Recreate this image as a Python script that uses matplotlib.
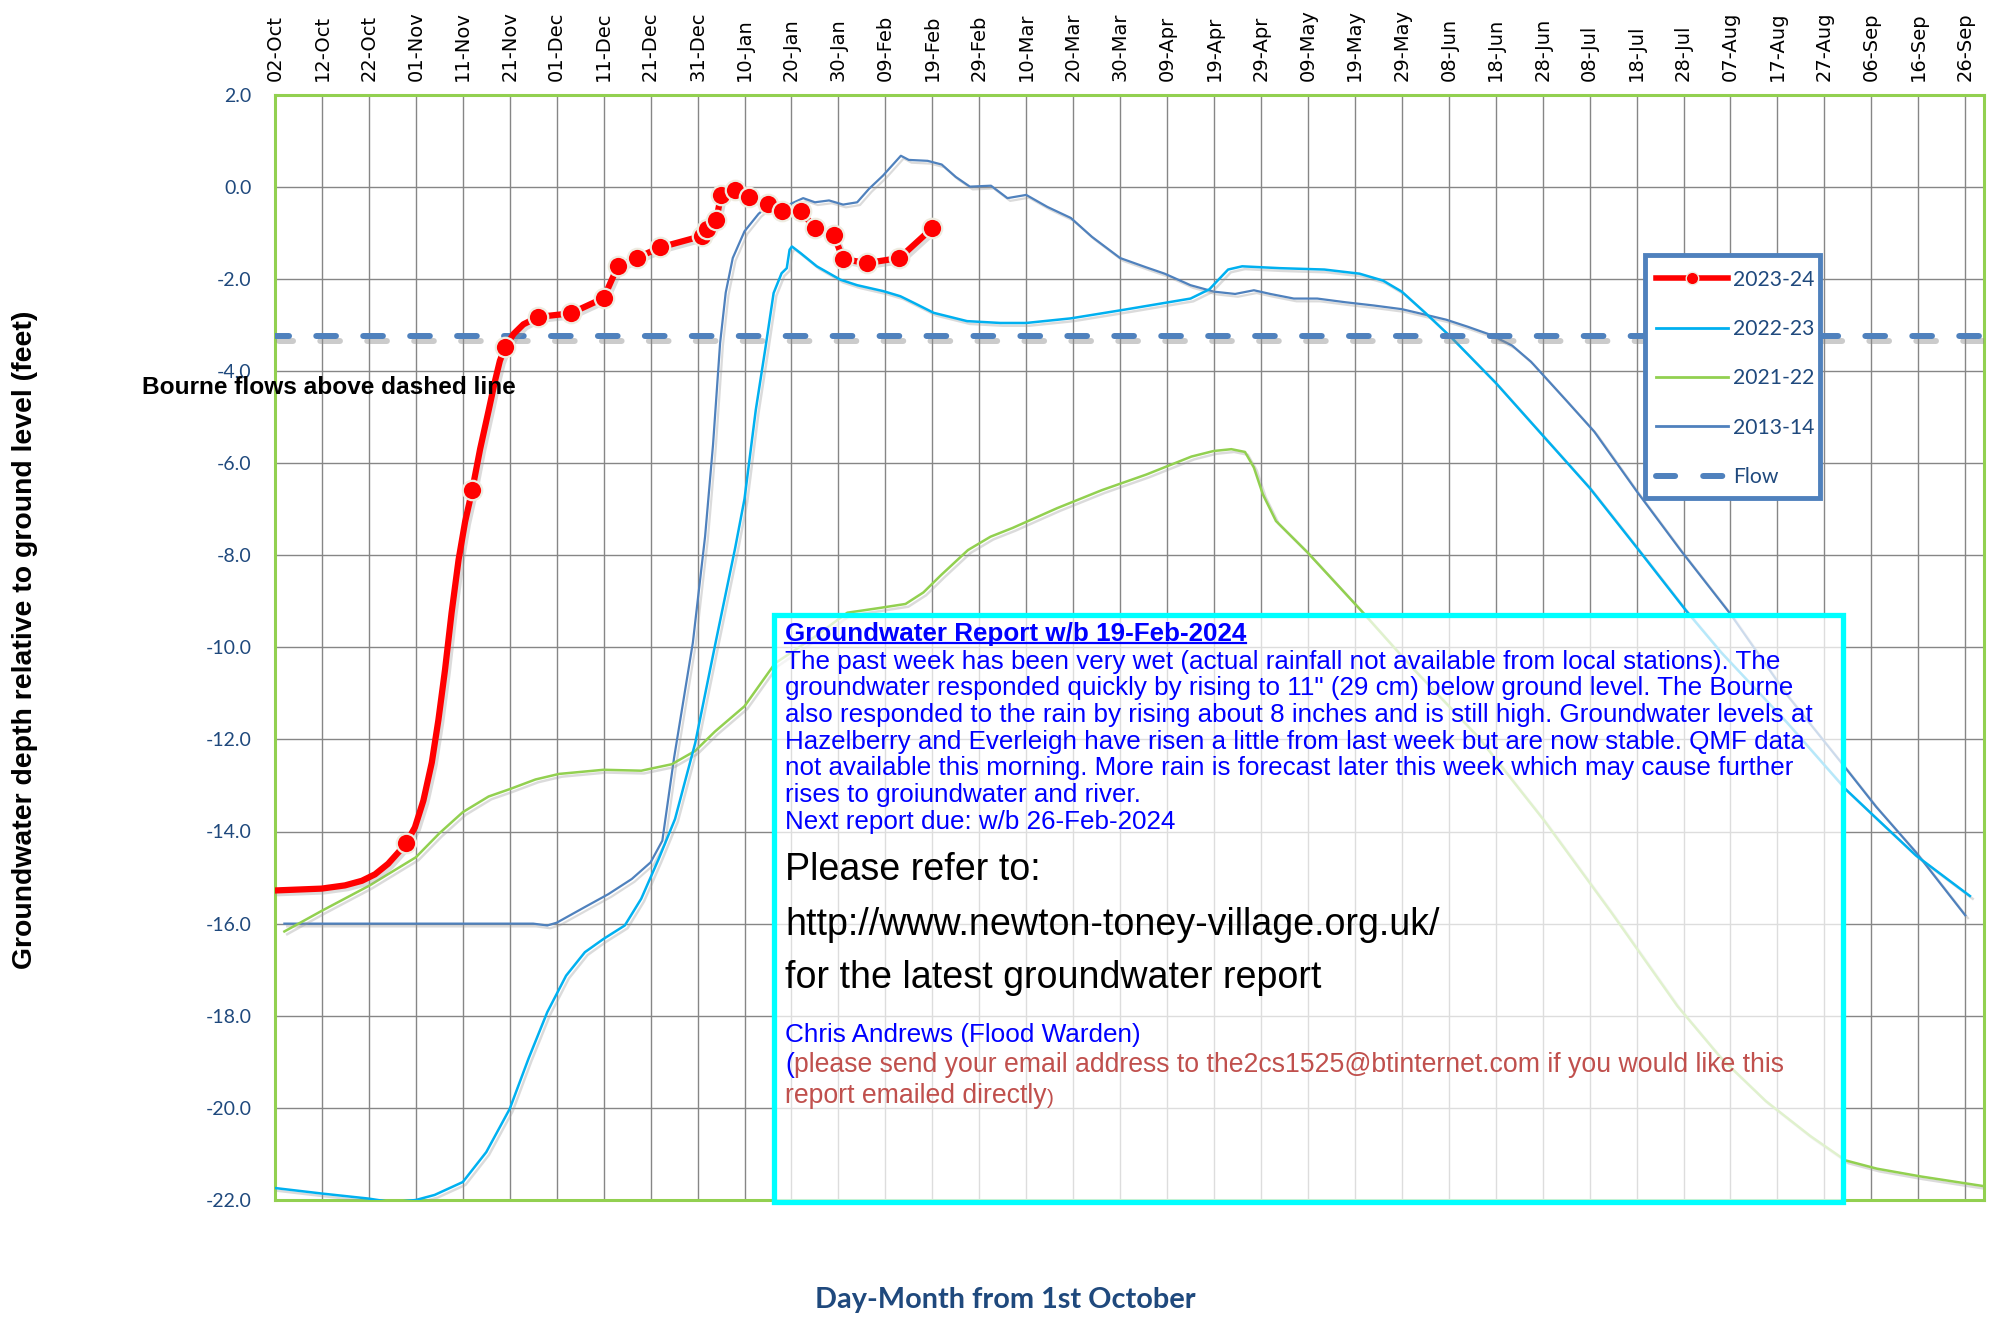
import matplotlib
matplotlib.use("Agg")
import matplotlib.pyplot as plt
import matplotlib.patheffects as pe
from matplotlib.lines import Line2D
from matplotlib.patches import Rectangle

# days counted from 01-Oct (02-Oct = day 1)
tick_days = list(range(1, 362, 10))
tick_labels = ["02-Oct", "12-Oct", "22-Oct", "01-Nov", "11-Nov", "21-Nov", "01-Dec", "11-Dec",
               "21-Dec", "31-Dec", "10-Jan", "20-Jan", "30-Jan", "09-Feb", "19-Feb", "29-Feb",
               "10-Mar", "20-Mar", "30-Mar", "09-Apr", "19-Apr", "29-Apr", "09-May", "19-May",
               "29-May", "08-Jun", "18-Jun", "28-Jun", "08-Jul", "18-Jul", "28-Jul", "07-Aug",
               "17-Aug", "27-Aug", "06-Sep", "16-Sep", "26-Sep"]
y_ticks = [2, 0, -2, -4, -6, -8, -10, -12, -14, -16, -18, -20, -22]

# 2023-24 (line, markers = readings)
d24_line = [1, 10.9, 15.9, 19.5, 22.3, 25.1, 27.3, 29, 30.8, 32.6, 34.4, 35.8, 37.2, 38.6, 40.1,
            41.5, 43, 44.7, 46.5, 47.9, 48.9, 50, 51.8, 53.9, 57, 64, 71, 74, 78, 83, 92, 93, 95,
            96, 99, 102, 106, 109, 113, 116, 120, 122, 127, 134, 141]
v24_line = [-15.28, -15.24, -15.17, -15.07, -14.93, -14.70, -14.45, -14.24, -13.91, -13.33, -12.50,
            -11.58, -10.50, -9.26, -8.10, -7.27, -6.59, -5.69, -4.86, -4.20, -3.78, -3.49, -3.20,
            -2.99, -2.83, -2.75, -2.42, -1.73, -1.55, -1.32, -1.07, -0.92, -0.72, -0.18, -0.07,
            -0.23, -0.38, -0.54, -0.54, -0.90, -1.05, -1.57, -1.66, -1.55, -0.90]
d24_pts = [29, 43, 50, 57, 64, 71, 74, 78, 83, 92, 93, 95, 96, 99, 102, 106, 109, 113, 116, 120,
           122, 127, 134, 141]
v24_pts = [-14.24, -6.59, -3.49, -2.83, -2.75, -2.42, -1.73, -1.55, -1.32, -1.07, -0.92, -0.72,
           -0.18, -0.07, -0.23, -0.38, -0.54, -0.54, -0.90, -1.05, -1.57, -1.66, -1.55, -0.90]

# 2022-23
d22 = [1, 11, 21, 26, 31, 35, 41, 46, 51, 55, 59, 63, 67, 71, 75.5, 79, 82.7, 86.2, 90.5, 94.8,
       99, 101, 103.4, 105.4, 107.2, 108.9, 110, 110.6, 111.1, 112.9, 116.4, 121.4, 125, 130.6,
       134.2, 137, 141.3, 148.4, 155.5, 161, 170.5, 182, 196, 200, 204, 207, 215, 224.5, 232, 237,
       241, 246, 251.5, 261, 271, 281, 291, 301.5, 309, 323, 335.5, 341, 350.5, 362]
v22 = [-21.74, -21.86, -21.97, -22.05, -22.0, -21.89, -21.61, -20.96, -20.02, -18.93, -17.92,
       -17.13, -16.62, -16.33, -16.04, -15.46, -14.60, -13.73, -12.08, -9.92, -7.85, -6.78, -4.85,
       -3.54, -2.31, -1.88, -1.77, -1.37, -1.30, -1.44, -1.73, -2.02, -2.14, -2.27, -2.38, -2.52,
       -2.74, -2.92, -2.96, -2.96, -2.86, -2.67, -2.43, -2.23, -1.80, -1.73, -1.77, -1.80, -1.89,
       -2.04, -2.28, -2.74, -3.27, -4.26, -5.40, -6.54, -7.83, -9.20, -10.11, -11.63, -13.08,
       -13.61, -14.52, -15.40]

# 2021-22
d21 = [3, 11, 21, 31, 36, 41, 46.5, 51, 56.5, 61.5, 71, 79, 85.5, 90.5, 94.7, 101, 107.5, 116,
       122.9, 129.6, 135.3, 139.1, 142.9, 148.6, 153.4, 158.1, 167.6, 177.1, 186.6, 196.2, 200.9,
       204.7, 207.6, 209.5, 211.4, 214.2, 220.9, 226.6, 232.3, 243, 257.2, 271.3, 285.5, 299.7,
       309.1, 318.5, 328, 335.5, 342.2, 351.6, 365]
v21 = [-16.17, -15.72, -15.18, -14.56, -14.04, -13.58, -13.24, -13.08, -12.87, -12.75, -12.66,
       -12.68, -12.54, -12.25, -11.83, -11.28, -10.35, -9.77, -9.25, -9.15, -9.06, -8.81, -8.43,
       -7.89, -7.60, -7.41, -6.98, -6.59, -6.25, -5.86, -5.74, -5.70, -5.76, -6.10, -6.68, -7.26,
       -7.94, -8.57, -9.20, -10.42, -11.94, -13.76, -15.74, -17.79, -18.93, -19.85, -20.61,
       -21.14, -21.32, -21.49, -21.70]

# 2013-14
d13 = [3, 56, 59, 61, 67, 72, 77, 81, 83.5, 86, 90, 92.6, 94.3, 95.8, 97, 98.5, 101, 104, 107,
       110.5, 113.5, 116, 119, 122, 125, 127.5, 130.5, 134.3, 136, 140, 143, 146, 149, 153.5, 157,
       161, 165.5, 170.5, 175, 181, 186.5, 190.5, 196, 201, 205.5, 209.5, 213, 218, 223, 229, 235,
       241, 246, 250.5, 255, 260, 264.5, 268.5, 276, 282, 291, 300.5, 311, 323, 335.5, 342, 350.5,
       361]
v13 = [-16.0, -16.0, -16.04, -15.98, -15.64, -15.36, -15.03, -14.67, -14.2, -12.4, -9.9, -7.6,
       -5.6, -3.4, -2.3, -1.55, -0.97, -0.59, -0.34, -0.39, -0.25, -0.34, -0.30, -0.39, -0.34,
       -0.05, 0.24, 0.67, 0.58, 0.56, 0.48, 0.21, 0.0, 0.02, -0.25, -0.18, -0.44, -0.68, -1.09,
       -1.55, -1.75, -1.89, -2.14, -2.28, -2.33, -2.25, -2.33, -2.43, -2.43, -2.51, -2.58, -2.66,
       -2.78, -2.89, -3.04, -3.22, -3.45, -3.80, -4.64, -5.32, -6.61, -7.91, -9.28, -11.03,
       -12.62, -13.46, -14.45, -15.82]

# Flow threshold
flow_days = [1, 365]
flow_vals = [-3.25, -3.25]

series_labels = ["2023-24", "2022-23", "2021-22", "2013-14", "Flow"]

body_lines = [
    "The past week has been very wet (actual rainfall not available from local stations). The",
    "groundwater responded quickly by rising to 11\" (29 cm) below ground level. The Bourne",
    "also responded to the rain by rising about 8 inches and is still high. Groundwater levels at",
    "Hazelberry and Everleigh have risen a little from last week but are now stable. QMF data",
    "not available this morning. More rain is forecast later this week which may cause further",
    "rises to groiundwater and river.",
    "Next report due: w/b 26-Feb-2024",
]

RED = "#FF0000"
LBLUE = "#00B0F0"
GREEN = "#92D050"
SBLUE = "#4F81BD"
NAVY = "#1F497D"

W, H = 1995, 1318
fig = plt.figure(figsize=(W / 100, H / 100), dpi=100)
fig.patch.set_facecolor("white")


def fx(x):
    return x / W


def fy(y):
    return 1 - y / H


ax = fig.add_axes([fx(275), fy(1200), (1984 - 275) / W, (1200 - 94.5) / H])
ax.set_xlim(1, 365)
ax.set_ylim(-22, 2)

shadow = [pe.SimpleLineShadow(offset=(2, -2), shadow_color="#9a9a9a", alpha=0.35), pe.Normal()]

ax.plot(d13, v13, color=SBLUE, lw=1.6, zorder=3, path_effects=shadow)
ax.plot(d21, v21, color=GREEN, lw=1.8, zorder=3, path_effects=shadow)
ax.plot(d22, v22, color=LBLUE, lw=1.8, zorder=3, path_effects=shadow)
ax.plot(flow_days, flow_vals, color=SBLUE, lw=4.3, ls=(0.95, (3.3, 4.56)), dash_capstyle="round",
        zorder=4,
        path_effects=[pe.SimpleLineShadow(offset=(3, -3.5), shadow_color="#8c8c8c", alpha=0.45),
                      pe.Normal()])
ax.plot(d24_line, v24_line, color=RED, lw=4.5, solid_capstyle="round", zorder=5,
        path_effects=shadow)
ax.plot(d24_pts, v24_pts, ls="none", marker="o", ms=14, mfc=RED, mec="#EEECE1", mew=1.6,
        zorder=6)

# axes styling
ax.xaxis.tick_top()
ax.set_xticks(tick_days)
ax.set_xticklabels(tick_labels, rotation=90, fontsize=14, family="DejaVu Sans", color="black")
ax.set_yticks(y_ticks)
ax.set_yticklabels(["%.1f" % v for v in y_ticks], fontsize=14, family="Lato", color=NAVY)
ax.tick_params(axis="x", length=0, pad=10)
ax.tick_params(axis="y", length=0, pad=17)
ax.grid(True, color="#868686", lw=1.0)
ax.set_axisbelow(True)
for s in ax.spines.values():
    s.set_color(GREEN)
    s.set_linewidth(2.2)

# legend: frame drawn as a rectangle, entries without frame
leg_box = Rectangle((fx(1645), fy(498)), (1820 - 1645) / W, (498 - 255) / H,
                    transform=fig.transFigure, facecolor="white", edgecolor=SBLUE, lw=3.5,
                    zorder=9, clip_on=False)
ax.add_patch(leg_box)
handles = [
    Line2D([], [], color=RED, lw=4, marker="o", ms=9, mfc=RED, mec="#EEECE1", mew=1),
    Line2D([], [], color=LBLUE, lw=2),
    Line2D([], [], color=GREEN, lw=2),
    Line2D([], [], color=SBLUE, lw=2),
    Line2D([], [], color=SBLUE, lw=4.3, dashes=(3.2, 4.7), dash_capstyle="round"),
]
leg = ax.legend(handles, series_labels, loc="upper left",
                bbox_to_anchor=(fx(1645), fy(259)), bbox_transform=fig.transFigure,
                borderaxespad=0, frameon=False,
                prop={"family": "Lato", "size": 15.2}, labelcolor=NAVY,
                handlelength=3.41, handletextpad=0.28, labelspacing=1.39, borderpad=0.5)
leg.set_zorder(10)

# annotation
fig.text(fx(142), fy(388), "Bourne flows above dashed line", fontsize=17.6, fontweight="bold",
         family="Liberation Sans", color="black", va="center", ha="left", zorder=7)

# axis titles
fig.text(fx(25), fy(640), "Groundwater depth relative to ground level (feet)", rotation=90,
         fontsize=20.4, fontweight="bold", family="Liberation Sans", va="center", ha="center")
fig.text(fx(1005), fy(1300), "Day-Month from 1st October", fontsize=20.8, fontweight="bold",
         family="Lato", color=NAVY, va="center", ha="center")

# report box
box = Rectangle((fx(774), fy(1202)), (1843 - 774) / W, (1202 - 615) / H,
                transform=fig.transFigure, facecolor=(1, 1, 1, 0.72), edgecolor="#00FFFF",
                lw=3.8, zorder=5)
fig.add_artist(box)

renderer = fig.canvas.get_renderer()
tx = fx(785)
title = fig.text(tx, fy(634), "Groundwater Report w/b 19-Feb-2024", fontsize=18.7,
                 fontweight="bold", family="Liberation Sans", color="#0000FF", va="center",
                 zorder=7)
bb = title.get_window_extent(renderer)
fig.add_artist(Line2D([bb.x0 / W, bb.x1 / W], [(bb.y0 + 3.5) / H] * 2,
                      transform=fig.transFigure, color="#0000FF", lw=1.6, zorder=7))

line_y = [661.7, 688.3, 715, 741.7, 768.3, 795, 821.7]
for yy, txt in zip(line_y, body_lines):
    fig.text(tx, fy(yy), txt, fontsize=18.7, family="Liberation Sans", color="#0000FF",
             va="center", zorder=7)

for yy, txt in zip([870, 925, 978], ["Please refer to:", "http://www.newton-toney-village.org.uk/",
                                      "for the latest groundwater report"]):
    fig.text(tx, fy(yy), txt, fontsize=27.1, family="Liberation Sans", color="black",
             va="center", zorder=7)

fig.text(tx, fy(1035), "Chris Andrews (Flood Warden)", fontsize=18.8, family="Liberation Sans",
         color="#0000FF", va="center", zorder=7)

p_open = fig.text(tx, fy(1065), "(", fontsize=19.2, family="Liberation Sans", color="#0000FF",
                  va="center", zorder=7)
bo = p_open.get_window_extent(renderer)
fig.text(bo.x1 / W, fy(1065),
         "please send your email address to the2cs1525@btinternet.com if you would like this",
         fontsize=19.2, family="Liberation Sans", color="#C0504D", va="center", zorder=7)
last = fig.text(tx, fy(1096), "report emailed directly", fontsize=19.2, family="Liberation Sans",
                color="#C0504D", va="center", zorder=7)
bl = last.get_window_extent(renderer)
fig.text(bl.x1 / W, fy(1098), ")", fontsize=15, family="Liberation Sans", color="#C0504D",
         va="center", zorder=7)

fig.savefig("out.png", dpi=100)
